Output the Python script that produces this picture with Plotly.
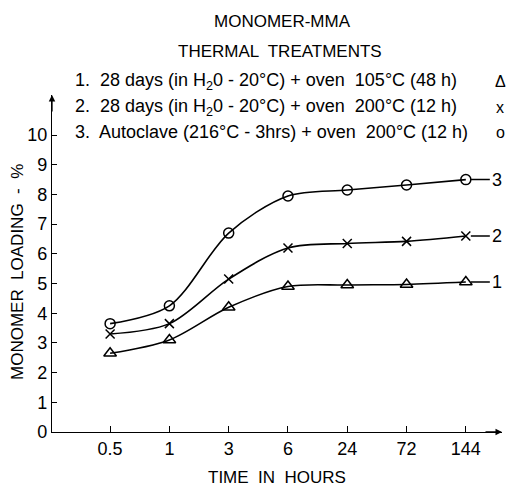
import plotly.graph_objects as go

times = ["0.5", "1", "3", "6", "24", "72", "144"]
s1 = [2.65, 3.1, 4.2, 4.9, 4.95, 4.97, 5.05]
s2 = [3.3, 3.65, 5.15, 6.2, 6.35, 6.42, 6.6]
s3 = [3.65, 4.25, 6.7, 7.95, 8.15, 8.32, 8.5]
yticks = list(range(0, 11))
series_labels = ["1", "2", "3"]
legend_lines = [
    "1.  28 days (in H<sub>2</sub>0 - 20°C) + oven  105°C (48 h)",
    "2.  28 days (in H<sub>2</sub>0 - 20°C) + oven  200°C (12 h)",
    "3.  Autoclave (216°C - 3hrs) + oven  200°C (12 h)",
]
legend_syms = ["Δ", "x", "o"]

FONT = "Liberation Sans, Arial"
xi = list(range(len(times)))

W, H = 512, 486
ml, mr, mt, mb = 52, 10, 95, 54
pw, ph = W - ml - mr, H - mt - mb


def px2paper(x, y):
    return (x - ml) / pw, 1 - (y - mt) / ph


fig = go.Figure()
markers = [
    dict(symbol="triangle-up-open", size=11, color="black", line=dict(width=1.5, color="black")),
    dict(symbol="x-thin-open", size=9, color="black", line=dict(width=1.5, color="black")),
    dict(symbol="circle-open", size=10, color="black", line=dict(width=1.5, color="black")),
]
for ys, m in zip([s1, s2, s3], markers):
    fig.add_trace(go.Scatter(
        x=xi, y=ys, mode="lines+markers",
        line=dict(color="black", width=1.6, shape="spline", smoothing=0.9),
        marker=m, showlegend=False, cliponaxis=False,
    ))

ann = []
for lab, ys in zip(series_labels, [s1, s2, s3]):
    ann.append(dict(
        x=xi[-1], y=ys[-1], xref="x", yref="y", text=lab,
        showarrow=True, arrowhead=0, arrowwidth=1.5, arrowcolor="black",
        ax=24, ay=0, standoff=5, font=dict(family=FONT, size=18, color="black"),
        xanchor="left",
    ))


def txt(x, y, text, size=16, anchor="center", angle=0):
    px, py = px2paper(x, y)
    return dict(x=px, y=py, xref="paper", yref="paper", text=text, showarrow=False,
                xanchor=anchor, yanchor="middle", textangle=angle,
                font=dict(family=FONT, size=size, color="black"))


ann.append(txt(282, 22, "MONOMER-MMA", 17))
ann.append(txt(280, 52, "THERMAL  TREATMENTS", 17))
for i, (t, s) in enumerate(zip(legend_lines, legend_syms)):
    yy = 82 + 25 * i
    ann.append(txt(73, yy, t, 18, "left"))
    ann.append(txt(500, yy, s, 16))
ann.append(txt(277, 477, "TIME  IN  HOURS", 17))
ann.append(txt(17, 272, "MONOMER  LOADING  -  %", 17, angle=-90))

# axis arrows
ann.append(dict(x=0, y=1, xref="paper", yref="paper", text="", showarrow=True, arrowhead=2,
                arrowsize=1, arrowwidth=1.3, arrowcolor="black", ax=0, ay=18))
ann.append(dict(x=1, y=0, xref="paper", yref="paper", text="", showarrow=True, arrowhead=2,
                arrowsize=1, arrowwidth=1.3, arrowcolor="black", ax=-18, ay=0))

fig.update_layout(
    annotations=ann,
    width=W, height=H,
    margin=dict(l=ml, r=mr, t=mt, b=mb, pad=0),
    paper_bgcolor="white", plot_bgcolor="white",
    xaxis=dict(range=[-0.98, 6.61], tickvals=xi, ticktext=times, showgrid=False, zeroline=False,
               showline=True, linecolor="black", linewidth=1.3, ticks="inside", ticklen=6,
               tickcolor="black", tickwidth=1.3,
               tickfont=dict(family=FONT, size=18, color="black")),
    yaxis=dict(range=[0, 11.35], tickvals=yticks, showgrid=False, zeroline=False,
               showline=True, linecolor="black", linewidth=1.3, ticks="inside", ticklen=5,
               tickcolor="black", tickwidth=1.3,
               tickfont=dict(family=FONT, size=18, color="black")),
)
fig.write_html("out.html")
